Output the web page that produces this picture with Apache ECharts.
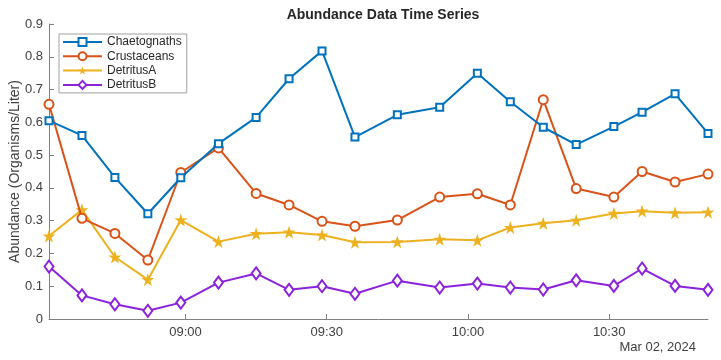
<!DOCTYPE html>
<html>
<head>
<meta charset="utf-8">
<script src="https://cdn.jsdelivr.net/npm/echarts@6/dist/echarts.min.js"></script>
<style>html,body{margin:0;padding:0;background:#fff}#c{width:721px;height:360px}</style>
</head>
<body>
<div id="c"></div>
<script>
var times = ['08:31','08:38','08:45','08:52','08:59','09:07','09:15','09:22','09:29','09:36','09:45','09:54','10:02','10:09','10:16','10:23','10:31','10:37','10:44','10:51'];
var chaetognaths = [0.605,0.560,0.432,0.321,0.431,0.535,0.615,0.733,0.818,0.555,0.623,0.646,0.750,0.663,0.585,0.532,0.587,0.631,0.687,0.566];
var crustaceans = [0.655,0.307,0.261,0.180,0.447,0.522,0.383,0.348,0.298,0.283,0.302,0.372,0.382,0.348,0.669,0.398,0.372,0.450,0.418,0.442];
var detritusA = [0.253,0.333,0.189,0.120,0.302,0.236,0.260,0.265,0.256,0.234,0.235,0.243,0.240,0.279,0.292,0.301,0.322,0.329,0.324,0.326];
var detritusB = [0.160,0.072,0.045,0.025,0.050,0.111,0.139,0.089,0.100,0.077,0.117,0.096,0.108,0.096,0.090,0.118,0.101,0.154,0.101,0.089];
var tickTimes = ['09:00','09:30','10:00','10:30'];
var dateLabel = 'Mar 02, 2024';

function toMs(s){var p=s.split(':');return Date.UTC(2024,2,2,+p[0],+p[1]);}
function fmt(v){var d=new Date(v);var h=d.getUTCHours(),m=d.getUTCMinutes();return (h<10?'0':'')+h+':'+(m<10?'0':'')+m;}
var xs = times.map(toMs);
var ticks = tickTimes.map(toMs);
function pairs(arr){return arr.map(function(v,i){return [xs[i],v];});}

var starPath = 'path://M50,0 L61.8,35.4 L100,35.4 L69.1,57.3 L80.9,95.1 L50,72.4 L19.1,95.1 L30.9,57.3 L0,35.4 L38.2,35.4 Z';
var axisColor = '#808080';
var textColor = '#404040';
var font = 'Helvetica, Arial, "Liberation Sans", sans-serif';

var chart = echarts.init(document.getElementById('c'), null, {renderer:'canvas'});
chart.setOption({
  animation:false,
  backgroundColor:'#fff',
  textStyle:{fontFamily:font},
  title:{text:'Abundance Data Time Series',left:378,textAlign:'center',top:3,
    textStyle:{fontSize:14,fontWeight:'bold',color:'#262626',fontFamily:font}},
  grid:{left:49,right:13,top:24,bottom:41,containLabel:false,outerBoundsMode:'none'},
  legend:{orient:'vertical',left:59,top:34,padding:[2,5,2,3],itemWidth:39,itemHeight:10,itemGap:2.3,
    borderColor:'#a0a0a0',borderWidth:1,backgroundColor:'#fff',
    textStyle:{fontSize:12,color:'#262626',fontFamily:font,lineHeight:11},
    data:['Chaetognaths','Crustaceans','DetritusA','DetritusB']},
  xAxis:{type:'value',min:xs[0],max:xs[xs.length-1],
    axisLine:{show:true,lineStyle:{color:axisColor,width:1}},
    axisTick:{show:true,inside:true,length:5,customValues:ticks,lineStyle:{color:axisColor}},
    axisLabel:{customValues:ticks,formatter:function(v){return fmt(v);},fontSize:13,color:textColor,margin:7,fontFamily:font},
    splitLine:{show:false}},
  yAxis:{type:'value',min:0,max:0.9,interval:0.1,
    name:'Abundance (Organisms/Liter)',nameLocation:'middle',nameGap:27,nameMoveOverlap:false,
    nameTextStyle:{fontSize:14,color:textColor,fontFamily:font},
    axisLine:{show:true,lineStyle:{color:axisColor,width:1}},
    axisTick:{show:true,inside:true,length:5,lineStyle:{color:axisColor}},
    axisLabel:{fontSize:13,color:textColor,margin:6,fontFamily:font,formatter:function(v){return v===0?'0':v.toFixed(1);}},
    splitLine:{show:false}},
  graphic:[{type:'text',right:25,top:341,style:{text:dateLabel,fontSize:13,fill:textColor,fontFamily:font}}],
  series:[
    {name:'Chaetognaths',type:'line',data:pairs(chaetognaths),color:'#0072BD',symbol:'emptyRect',symbolSize:7,
      lineStyle:{width:2},itemStyle:{borderWidth:1.5},z:4},
    {name:'Crustaceans',type:'line',data:pairs(crustaceans),color:'#D95319',symbol:'emptyCircle',symbolSize:9,
      lineStyle:{width:2},itemStyle:{borderWidth:2},z:3},
    {name:'DetritusA',type:'line',data:pairs(detritusA),color:'#EDB120',symbol:starPath,symbolSize:13,
      lineStyle:{width:2},z:2},
    {name:'DetritusB',type:'line',data:pairs(detritusB),color:'#8B22DC',symbol:'emptyDiamond',symbolSize:[9,12],
      lineStyle:{width:2},itemStyle:{borderWidth:2},z:1}
  ]
});
</script>
</body>
</html>
